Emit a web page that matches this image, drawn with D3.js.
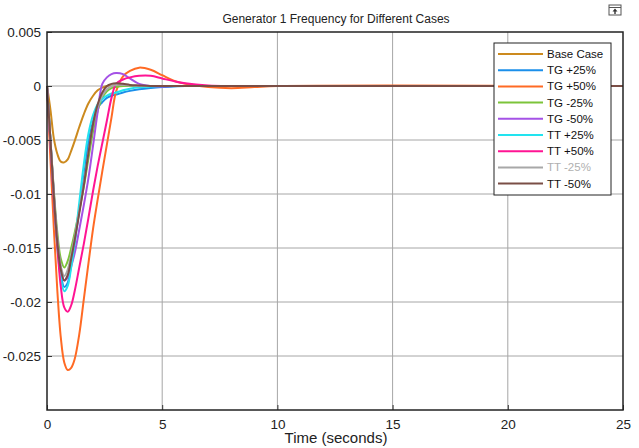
<!DOCTYPE html>
<html>
<head>
<meta charset="utf-8">
<script src="https://cdn.jsdelivr.net/npm/d3@7"></script>
<style>
  body { margin: 0; background: #fff; }
  text { font-family: "Liberation Sans", Arial, sans-serif; }
</style>
</head>
<body>
<div id="chart"></div>
<script>
// time samples (seconds) shared by every series
var times = [0, 0.15, 0.3, 0.45, 0.6, 0.75, 0.9, 1.05, 1.2, 1.4, 1.6, 1.8, 2.0, 2.2, 2.4, 2.6, 2.8, 3.0, 3.3, 3.6, 4.0, 4.5, 5.0, 5.5, 6.0, 7.0, 8.0, 9.0, 10, 25];

var base_case = [0, -0.0022, -0.0049, -0.0063, -0.0070, -0.00707, -0.0068, -0.0060, -0.0051, -0.0038, -0.0026, -0.0016, -0.0009, -0.0004, -0.00015, 0, 0.00005, 0.00005, 0.00003, 0, 0, 0, 0, 0, 0, 0, 0, 0, 0, 0];
var tg_p25 = [0, -0.0050, -0.0102, -0.0145, -0.0174, -0.0186, -0.0182, -0.0165, -0.0145, -0.0115, -0.0085, -0.0052, -0.0033, -0.0020, -0.0015, -0.0011, -0.0009, -0.0008, -0.0006, -0.00045, -0.0003, -0.00018, -0.0001, -0.00005, 0, 0, 0, 0, 0, 0];
var tg_p50 = [0, -0.0068, -0.0133, -0.0190, -0.0233, -0.0256, -0.0263, -0.0261, -0.0253, -0.0230, -0.0197, -0.0164, -0.0132, -0.0105, -0.0079, -0.0054, -0.0029, -0.0005, 0.0009, 0.0014, 0.0017, 0.0015, 0.0010, 0.0005, 0.0002, -0.0001, -0.0002, -0.0001, 0, 0];
var tg_m25 = [0, -0.0050, -0.0098, -0.0136, -0.0160, -0.0168, -0.0162, -0.0150, -0.0136, -0.0115, -0.0093, -0.0067, -0.0042, -0.0023, -0.0011, -0.0005, -0.0002, -0.0001, 0, 0, 0, 0, 0, 0, 0, 0, 0, 0, 0, 0];
var tg_m50 = [0, -0.0050, -0.0100, -0.0142, -0.0168, -0.0180, -0.0177, -0.0167, -0.0155, -0.0133, -0.0110, -0.0085, -0.0055, -0.0024, 0.0002, 0.0008, 0.0011, 0.0012, 0.0011, 0.0007, 0.0002, 0, -0.00005, 0, 0, 0, 0, 0, 0, 0];
var tt_p25 = [0, -0.0052, -0.0105, -0.0150, -0.0178, -0.0190, -0.0185, -0.0168, -0.0145, -0.0108, -0.0072, -0.0044, -0.0027, -0.0017, -0.0012, -0.0009, -0.0007, -0.0006, -0.0004, -0.00025, -0.00012, -0.00004, 0, 0, 0, 0, 0, 0, 0, 0];
var tt_p50 = [0, -0.0055, -0.0108, -0.0150, -0.0186, -0.0205, -0.0209, -0.0203, -0.0190, -0.0168, -0.0146, -0.0122, -0.0097, -0.0074, -0.0053, -0.0032, -0.0011, 0.0002, 0.0006, 0.0008, 0.00095, 0.00095, 0.0007, 0.00045, 0.00025, 0.00005, 0, 0, 0, 0];
var tt_m25 = [0, -0.0050, -0.0101, -0.0142, -0.0167, -0.0176, -0.0170, -0.0156, -0.0140, -0.0116, -0.0090, -0.0062, -0.0036, -0.0019, -0.0009, -0.0003, 0, 0.0001, 0.0001, 0.00005, 0, 0, 0, 0, 0, 0, 0, 0, 0, 0];
var tt_m50 = [0, -0.0050, -0.0103, -0.0145, -0.0170, -0.0180, -0.0175, -0.0160, -0.0143, -0.0118, -0.0092, -0.0062, -0.0035, -0.0017, -0.0006, 0, 0.0002, 0.00025, 0.0002, 0.0001, 0.00005, 0, 0, 0, 0, 0, 0, 0, 0, 0];

var series_names = ["Base Case", "TG +25%", "TG +50%", "TG -25%", "TG -50%", "TT +25%", "TT +50%", "TT -25%", "TT -50%"];
var series_values = [base_case, tg_p25, tg_p50, tg_m25, tg_m50, tt_p25, tt_p50, tt_m25, tt_m50];
var series_colors = ["#cc8a1e", "#1b8fea", "#ff6a24", "#7cc43a", "#a552e6", "#22e3ef", "#ff1493", "#a8a8a8", "#7a4e46"];

var x_ticks = [0, 5, 10, 15, 20, 25];
var y_ticks = [0.005, 0, -0.005, -0.01, -0.015, -0.02, -0.025];

var width = 639, height = 448;
var plot_left = 47, plot_right = 623, plot_top = 32, plot_bottom = 410;

var svg = d3.select("#chart").append("svg")
            .attr("width", width)
            .attr("height", height);

var x = d3.scaleLinear().domain([0, 25]).range([plot_left, plot_right]);
var y = d3.scaleLinear().domain([-0.03, 0.005]).range([plot_bottom, plot_top]);

// grid
svg.append("g").selectAll("line").data(x_ticks.slice(1, -1)).enter().append("line")
    .attr("x1", d => x(d)).attr("x2", d => x(d))
    .attr("y1", plot_top).attr("y2", plot_bottom)
    .attr("stroke", "#a6a6a6").attr("stroke-width", 1);
svg.append("g").selectAll("line").data(y_ticks.slice(1)).enter().append("line")
    .attr("x1", plot_left).attr("x2", plot_right)
    .attr("y1", d => y(d)).attr("y2", d => y(d))
    .attr("stroke", "#a6a6a6").attr("stroke-width", 1);

// curves
var line = d3.line()
    .x(function(d, i){ return x(times[i]); })
    .y(function(d){ return y(d); })
    .curve(d3.curveCatmullRom.alpha(0.5));

svg.append("g").selectAll("path").data(series_values).enter().append("path")
    .attr("d", d => line(d))
    .attr("fill", "none")
    .attr("stroke", (d, i) => series_colors[i])
    .attr("stroke-width", 2);

// axes
var xAxis = svg.append("g").attr("transform", "translate(0," + plot_bottom + ")")
    .call(d3.axisBottom(x).tickValues(x_ticks).tickSize(-5).tickPadding(9).tickFormat(d3.format("d")));
var yAxis = svg.append("g").attr("transform", "translate(" + plot_left + ",0)")
    .call(d3.axisLeft(y).tickValues(y_ticks).tickSize(-5).tickPadding(6).tickFormat(d => d === 0 ? "0" : String(d)));
[xAxis, yAxis].forEach(function(a){
    a.select(".domain").remove();
    a.selectAll("text").style("font-size", "13.5px").attr("fill", "#222");
    a.selectAll("line").attr("stroke", "#333");
});

// frame
svg.append("rect")
    .attr("x", plot_left).attr("y", plot_top)
    .attr("width", plot_right - plot_left).attr("height", plot_bottom - plot_top)
    .attr("fill", "none").attr("stroke", "#222").attr("stroke-width", 1.5);

// titles
svg.append("text").attr("x", 336).attr("y", 23)
    .attr("text-anchor", "middle").style("font-size", "12px").attr("fill", "#222")
    .text("Generator 1 Frequency for Different Cases");
svg.append("text").attr("x", 336).attr("y", 443)
    .attr("text-anchor", "middle").style("font-size", "15px").attr("fill", "#222")
    .text("Time (seconds)");

// small figure icon top right
var icon = svg.append("g").attr("transform", "translate(609,5)");
icon.append("rect").attr("width", 12).attr("height", 10).attr("fill", "#fff").attr("stroke", "#555");
icon.append("line").attr("x1", 0).attr("x2", 12).attr("y1", 2.5).attr("y2", 2.5).attr("stroke", "#555");
icon.append("path").attr("d", "M6,3.5 L3.5,6.5 L8.5,6.5 Z M5.3,6.5 L5.3,9 L6.7,9 L6.7,6.5 Z").attr("fill", "#333");

// legend
var legend = svg.append("g").attr("transform", "translate(494,43)");
legend.append("rect").attr("width", 117).attr("height", 152)
    .attr("fill", "#fff").attr("stroke", "#222").attr("stroke-width", 1);
var rows = legend.selectAll("g.row").data(series_names).enter().append("g")
    .attr("transform", (d, i) => "translate(0," + (11 + i * 16.2) + ")");
rows.append("line").attr("x1", 4).attr("x2", 49).attr("y1", 0).attr("y2", 0)
    .attr("stroke", (d, i) => series_colors[i]).attr("stroke-width", 2);
rows.append("text").attr("x", 53).attr("y", 4)
    .style("font-size", "11.5px")
    .attr("fill", (d, i) => i === 7 ? "#b0b0b0" : "#111")
    .text(d => d);
</script>
</body>
</html>
